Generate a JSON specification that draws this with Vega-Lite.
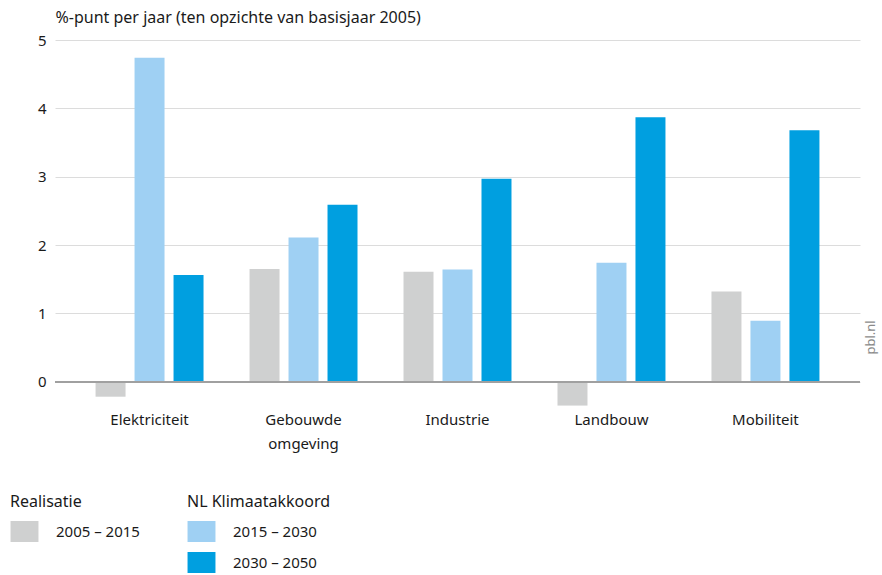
{
  "$schema": "https://vega.github.io/schema/vega-lite/v6.json",
  "autosize": {"type": "none"},
  "padding": {"left": 55, "top": 40, "right": 22, "bottom": 166},
  "width": 805,
  "height": 369,
  "background": "white",
  "config": {
    "font": "Noto Sans",
    "view": {"stroke": null},
    "axis": {"labelFont": "Noto Sans", "titleFont": "Noto Sans", "labelColor": "#1a1a1a", "titleColor": "#1a1a1a"},
    "legend": {"labelFont": "Noto Sans", "titleFont": "Noto Sans"}
  },
  "data": {
    "values": [
      {"sector": "Elektriciteit", "periode": "2005 – 2015", "waarde": -0.22},
      {"sector": "Elektriciteit", "periode": "2015 – 2030", "waarde": 4.74},
      {"sector": "Elektriciteit", "periode": "2030 – 2050", "waarde": 1.56},
      {"sector": "Gebouwde omgeving", "periode": "2005 – 2015", "waarde": 1.65},
      {"sector": "Gebouwde omgeving", "periode": "2015 – 2030", "waarde": 2.11},
      {"sector": "Gebouwde omgeving", "periode": "2030 – 2050", "waarde": 2.59},
      {"sector": "Industrie", "periode": "2005 – 2015", "waarde": 1.61},
      {"sector": "Industrie", "periode": "2015 – 2030", "waarde": 1.64},
      {"sector": "Industrie", "periode": "2030 – 2050", "waarde": 2.97},
      {"sector": "Landbouw", "periode": "2005 – 2015", "waarde": -0.35},
      {"sector": "Landbouw", "periode": "2015 – 2030", "waarde": 1.74},
      {"sector": "Landbouw", "periode": "2030 – 2050", "waarde": 3.87},
      {"sector": "Mobiliteit", "periode": "2005 – 2015", "waarde": 1.32},
      {"sector": "Mobiliteit", "periode": "2015 – 2030", "waarde": 0.89},
      {"sector": "Mobiliteit", "periode": "2030 – 2050", "waarde": 3.68}
    ]
  },
  "encoding": {
    "x": {
      "field": "sector", "type": "nominal", "sort": null,
      "scale": {"paddingInner": 0, "paddingOuter": 0.114},
      "axis": {
        "title": null, "domain": false, "ticks": false, "labelAngle": 0,
        "labelFontSize": 15, "labelPadding": 3, "labelLineHeight": 24,
        "labelExpr": "datum.label == 'Gebouwde omgeving' ? ['Gebouwde', 'omgeving'] : datum.label"
      }
    },
    "y": {
      "field": "waarde", "type": "quantitative",
      "scale": {"domain": [-0.4, 5], "nice": false, "zero": false}
    }
  },
  "layer": [
    {
      "transform": [{"filter": "datum.periode == '2005 – 2015'"}],
      "mark": {"type": "bar"},
      "encoding": {
        "xOffset": {"field": "periode", "type": "nominal", "scale": {"domain": ["2005 – 2015", "2015 – 2030", "2030 – 2050"], "paddingInner": 0.2308, "paddingOuter": 0.59}},
        "y": {
          "field": "waarde", "type": "quantitative",
          "axis": {
            "values": [0, 1, 2, 3, 4, 5], "domain": false, "ticks": false,
            "labelFontSize": 15, "labelPadding": 9, "gridColor": "#dcdcdc", "grid": true,
            "title": "%-punt per jaar (ten opzichte van basisjaar 2005)",
            "titleAngle": 0, "titleAlign": "left", "titleBaseline": "alphabetic",
            "titleX": 0, "titleY": -18, "titleFontSize": 16, "titleFontWeight": "normal"
          }
        },
        "color": {
          "field": "periode", "type": "nominal",
          "scale": {"domain": ["2005 – 2015"], "range": ["#cfd0d0"]},
          "legend": {
            "title": "Realisatie", "orient": "none", "legendX": -45, "legendY": 454,
            "titleFontSize": 16, "titleFontWeight": "normal", "titleColor": "#1a1a1a", "titlePadding": 11,
            "labelFontSize": 15, "labelColor": "#1a1a1a", "labelOffset": 21, "symbolOffset": 4,
            "symbolType": "M-1.33,-1H1.33V1H-1.33Z", "symbolSize": 441, "symbolStrokeWidth": 0, "symbolOpacity": 1,
            "rowPadding": 10
          }
        }
      }
    },
    {
      "transform": [{"filter": "datum.periode != '2005 – 2015'"}],
      "mark": {"type": "bar"},
      "encoding": {
        "xOffset": {"field": "periode", "type": "nominal"},
        "y": {"field": "waarde", "type": "quantitative", "axis": null},
        "color": {
          "field": "periode", "type": "nominal",
          "scale": {"domain": ["2015 – 2030", "2030 – 2050"], "range": ["#9fd0f3", "#009fe0"]},
          "legend": {
            "title": "NL Klimaatakkoord", "orient": "none", "legendX": 132, "legendY": 454,
            "titleFontSize": 16, "titleFontWeight": "normal", "titleColor": "#1a1a1a", "titlePadding": 11,
            "labelFontSize": 15, "labelColor": "#1a1a1a", "labelOffset": 21, "symbolOffset": 4,
            "symbolType": "M-1.33,-1H1.33V1H-1.33Z", "symbolSize": 441, "symbolStrokeWidth": 0, "symbolOpacity": 1,
            "rowPadding": 10
          }
        }
      }
    },
    {
      "mark": {"type": "rule", "color": "#a0a0a0", "strokeWidth": 1.5},
      "encoding": {
        "x": {"value": 0},
        "x2": {"value": 805},
        "y": {
          "datum": 0, "type": "quantitative",
          "axis": {
            "orient": "right", "labels": false, "ticks": false, "domain": false, "grid": false,
            "title": "pbl.nl", "titleAngle": 270, "titleX": 10, "titleY": 297,
            "titleAlign": "center", "titleBaseline": "middle",
            "titleFontSize": 13, "titleFontWeight": "normal", "titleColor": "#8a8a8a"
          }
        }
      }
    }
  ],
  "resolve": {"scale": {"color": "independent"}, "legend": {"color": "independent"}, "axis": {"y": "independent"}}
}
